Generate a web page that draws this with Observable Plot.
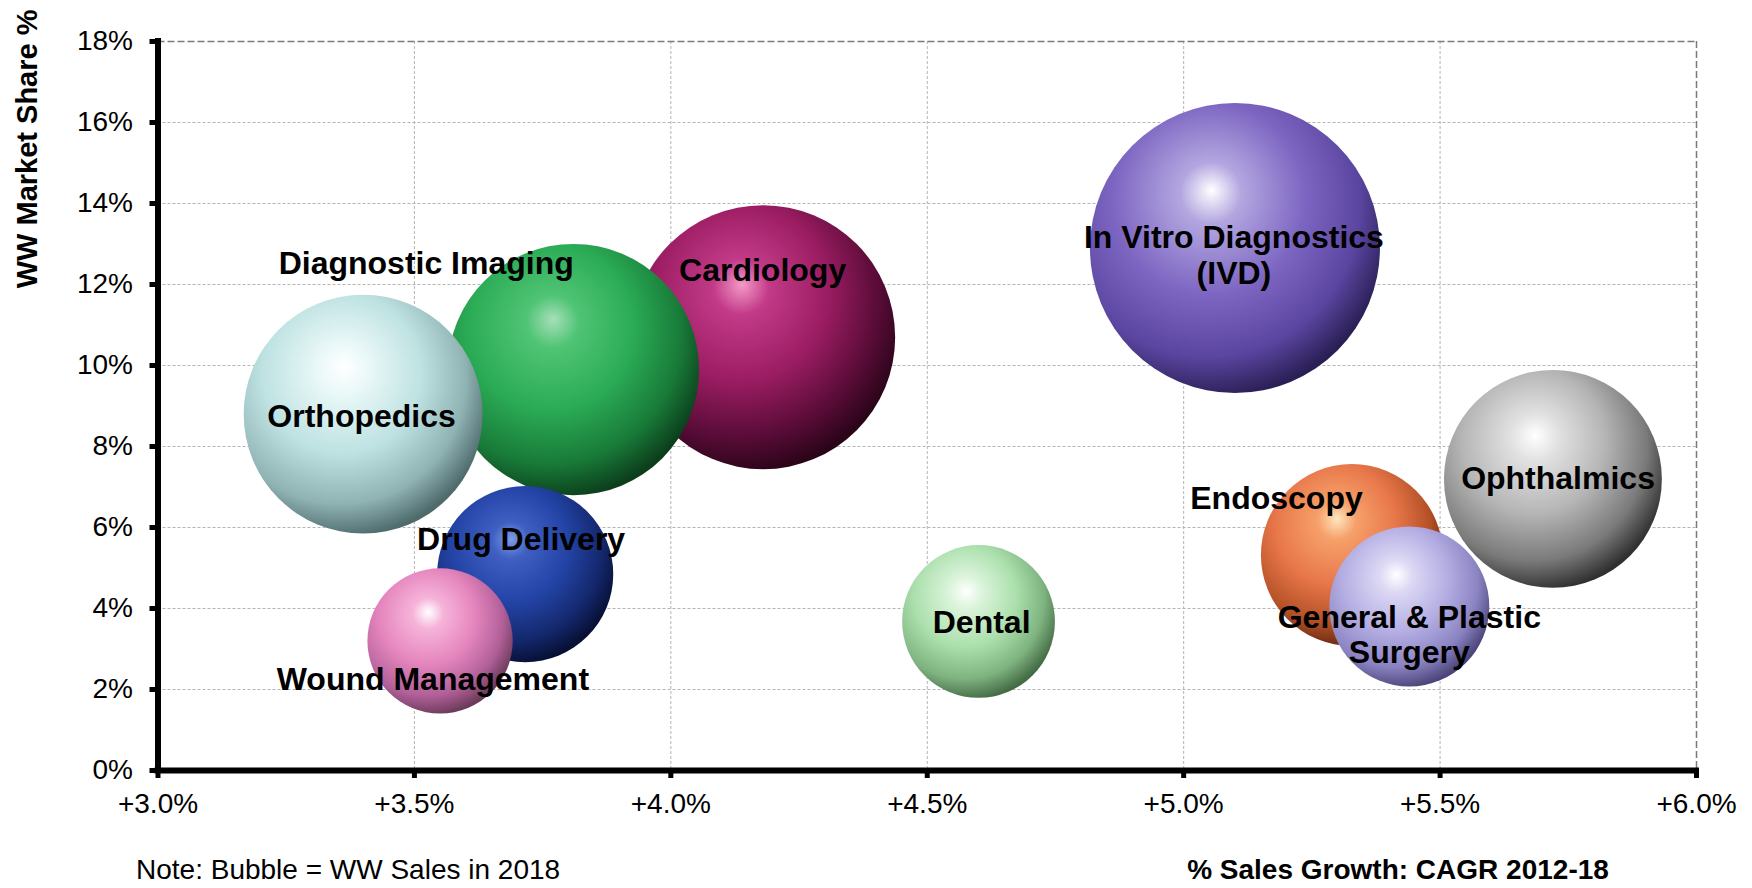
<!DOCTYPE html>
<html>
<head>
<meta charset="utf-8">
<script src="https://cdn.jsdelivr.net/npm/d3@7"></script>
<script src="https://cdn.jsdelivr.net/npm/@observablehq/plot@0.6"></script>
<style>
  html, body { margin: 0; padding: 0; background: #fff; }
  #wrap { width: 1752px; font-family: "Liberation Sans", Arial, Helvetica, sans-serif; }
  #chart g[aria-label="x-axis tick"], #chart g[aria-label="y-axis tick"] { stroke-width: 5px; }
  #chart .tick line { stroke-width: 5px; }
  #captions { position: relative; width: 1752px; height: 48px; font-size: 28px; line-height: 28px; color: #000; }
  #captions span { position: absolute; top: 16px; white-space: nowrap; }
</style>
</head>
<body>
<div id="wrap">
  <div id="chart"></div>
  <div id="captions">
    <span id="note" style="left:136px;">Note: Bubble = WW Sales in 2018</span>
    <span id="xlabel" style="left:1398px; transform: translateX(-50%); font-weight: bold;">% Sales Growth: CAGR 2012-18</span>
  </div>
</div>
<script>
// ---- data ----
const segments = ["Cardiology", "Diagnostic Imaging", "Orthopedics", "Drug Delivery", "Wound Management",
                  "In Vitro Diagnostics\n(IVD)", "Ophthalmics", "Endoscopy", "General & Plastic\nSurgery", "Dental"];
const growth = [4.18, 3.81, 3.40, 3.716, 3.55, 5.10, 5.72, 5.328, 5.44, 4.60];   // % CAGR 2012-18
const share  = [10.7, 9.9, 8.8, 4.85, 3.2, 12.9, 7.2, 5.32, 4.05, 3.68];        // WW market share %
const sales  = [43.6, 39.5, 35.7, 19.4, 13.2, 52.6, 29.7, 20.7, 16.0, 14.6];     // WW sales 2018 ($bn, bubble)
const labelGrowth = [4.179, 3.523, 3.397, 3.708, 3.536, 5.098, 5.730, 5.181, 5.440, 4.606];
const labelShare  = [12.38, 12.54, 8.76, 5.72, 2.27, 12.73, 7.24, 6.74, 3.37, 3.67];
const xTicks = [3.0, 3.5, 4.0, 4.5, 5.0, 5.5, 6.0];
const yTicks = [0, 2, 4, 6, 8, 10, 12, 14, 16, 18];

// sphere shading: [highlight, light, base, dark, edge]
const sphereColors = [
  ["#f39ac8", "#c23a88", "#9c1d63", "#5a0c38", "#2a0418"],
  ["#a6dfb9", "#4fc474", "#2bab55", "#187a38", "#0c3e1c"],
  ["#ffffff", "#eaf8f8", "#bfe2e2", "#8fb2b3", "#4e6a6b"],
  ["#7e9be6", "#3f60c2", "#2344a6", "#14286e", "#070f33"],
  ["#ffffff", "#f6b4da", "#e585bd", "#b2609a", "#6a3a58"],
  ["#ffffff", "#b3a6e0", "#7d66c2", "#5a45a0", "#2a1f55"],
  ["#ffffff", "#e2e2e2", "#b5b5b5", "#7a7a7a", "#303030"],
  ["#ffe6bd", "#f6a06a", "#e8774a", "#b45026", "#5e2610"],
  ["#ffffff", "#dcd8f4", "#b4aee3", "#8a83c2", "#4a4478"],
  ["#ffffff", "#dcf4dc", "#ace0ad", "#7eb27f", "#436b44"]
];

const data = segments.map((name, i) => ({
  name, growth: growth[i], share: share[i], sales: sales[i],
  lx: labelGrowth[i], ly: labelShare[i], grad: `url(#sphere${i})`
}));

const font = '"Liberation Sans", Arial, Helvetica, sans-serif';

const chart = Plot.plot({
  width: 1752,
  height: 840,
  marginLeft: 157.5,
  marginRight: 56,
  marginTop: 41,
  marginBottom: 70,
  style: { fontFamily: font, fontSize: "28px", color: "#000", background: "#fff", overflow: "visible" },
  x: { domain: [3, 6], ticks: xTicks, tickFormat: d => "+" + d.toFixed(1) + "%", tickSize: 8, tickPadding: 15, label: null },
  y: { domain: [0, 18], ticks: yTicks, tickFormat: d => d + "%", tickSize: 8, tickPadding: 17, label: null },
  r: { type: "sqrt", domain: [0, 52.6], range: [0, 145] },
  color: { type: "identity" },
  marks: [
    // dashed grid
    Plot.ruleY(yTicks.filter(d => d > 0 && d < 18), { stroke: "#b4b4b4", strokeWidth: 1, strokeDasharray: "3,2" }),
    Plot.ruleX(xTicks.filter(d => d > 3 && d < 6), { stroke: "#b4b4b4", strokeWidth: 1, strokeDasharray: "3,2" }),
    Plot.ruleY([18], { stroke: "#7a7a7a", strokeWidth: 1.5, strokeDasharray: "7,3" }),
    Plot.ruleX([6], { stroke: "#7a7a7a", strokeWidth: 1.5, strokeDasharray: "7,3" }),
    // bubbles
    Plot.dot(data, { x: "growth", y: "share", r: "sales", fill: "grad", stroke: "none", sort: null }),
    // thick axes
    Plot.ruleX([3], { stroke: "#000", strokeWidth: 6, strokeLinecap: "square" }),
    Plot.ruleY([0], { stroke: "#000", strokeWidth: 6, strokeLinecap: "square" }),
    // bubble labels
    Plot.text(data, { x: "lx", y: "ly", text: "name", fontSize: 32, fontWeight: "bold", fill: "#000",
                      lineHeight: 1.12, textAnchor: "middle", lineAnchor: "middle" }),
    // y axis title
    Plot.text(["WW Market Share %"], { frameAnchor: "top-left", text: d => d, rotate: -90, textAnchor: "end",
                      lineAnchor: "middle", dx: -130, dy: -32, fontSize: 29, fontWeight: "bold", fill: "#000" })
  ]
});

// radial gradients for the sphere look (light upper-left, dark lower-right)
const svg = d3.select(chart.tagName.toLowerCase() === "svg" ? chart : chart.querySelector("svg"));
const defs = svg.insert("defs", ":first-child");
sphereColors.forEach((c, i) => {
  const g = defs.append("radialGradient").attr("id", `sphere${i}`)
    .attr("cx", "0.4").attr("cy", "0.36").attr("r", "0.66")
    .attr("fx", "0.42").attr("fy", "0.3");
  [[0, c[0]], [0.16, c[1]], [0.5, c[2]], [0.8, c[3]], [1, c[4]]].forEach(([o, col]) =>
    g.append("stop").attr("offset", o).attr("stop-color", col));
});

document.getElementById("chart").appendChild(chart);
</script>
</body>
</html>
